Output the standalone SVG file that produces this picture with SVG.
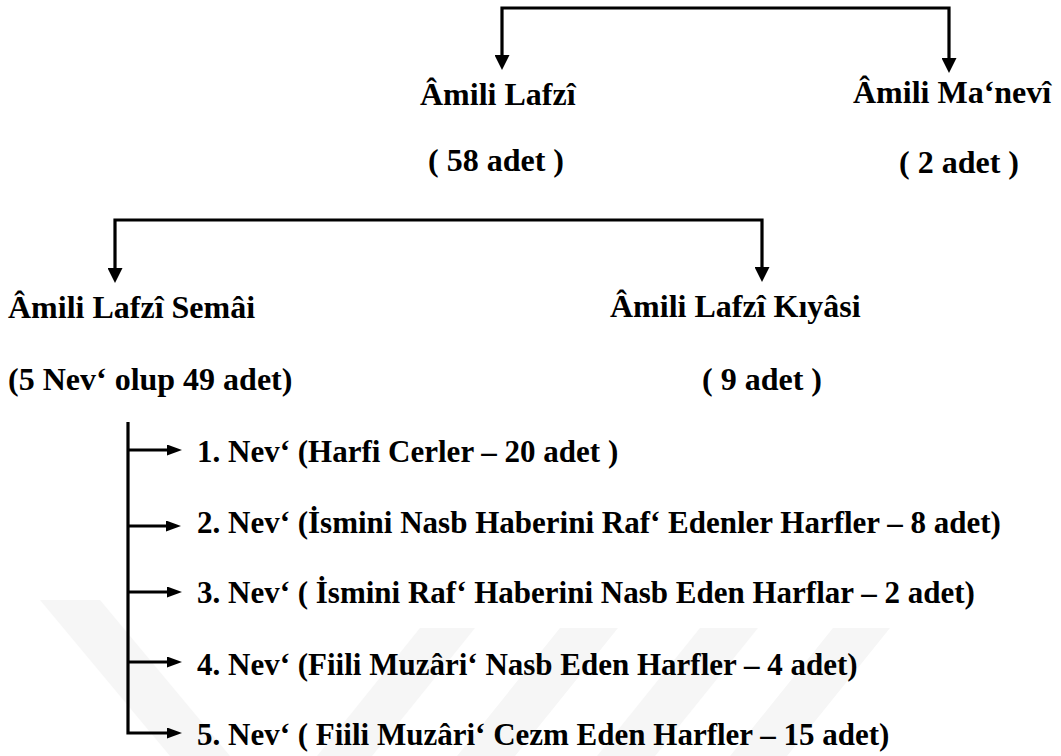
<svg xmlns="http://www.w3.org/2000/svg" width="1061" height="756" viewBox="0 0 1061 756">
<style>
.c{fill:none;stroke:#000;stroke-width:3.2;stroke-linejoin:miter}
.wm{fill:#f6f6f6}
</style>
<defs>
<marker id="big" viewBox="0 0 15 15" markerWidth="15" markerHeight="15" refX="5" refY="7.5" markerUnits="userSpaceOnUse" orient="auto-start-reverse"><path d="M0,0 L15,7.5 L0,15 Z" fill="#000"/></marker>
<marker id="sm" viewBox="0 0 15 11" markerWidth="15" markerHeight="11" refX="5" refY="5.5" markerUnits="userSpaceOnUse" orient="auto"><path d="M0,0 L15,5.5 L0,11 Z" fill="#000"/></marker>
</defs>
<rect width="1061" height="756" fill="#fff"/>
<g id="watermark">
<polygon class="wm" points="40,600 100,600 230,756 170,756"/>
<polygon class="wm" points="420,628 475,628 372,756 317,756"/>
<polygon class="wm" points="560,628 618,628 515,756 457,756"/>
<polygon class="wm" points="700,628 758,628 655,756 597,756"/>
<polygon class="wm" points="833,628 890,628 787,756 730,756"/>
</g>
<g id="connectors">
<path class="c" d="M502,60 V8 H949 V63" marker-start="url(#big)" marker-end="url(#big)"/>
<path class="c" d="M115,273 V220 H762 V272" marker-start="url(#big)" marker-end="url(#big)"/>
<path class="c" d="M128,422 V733 H172" marker-end="url(#sm)"/>
<path class="c" d="M127,450 H172" marker-end="url(#sm)"/>
<path class="c" d="M128,526 H171" marker-end="url(#sm)"/>
<path class="c" d="M128,592 H172" marker-end="url(#sm)"/>
<path class="c" d="M128,662 H172" marker-end="url(#sm)"/>
</g>
<g font-family="Liberation Serif" font-weight="bold" fill="#000">
<g id="lafzi" font-size="32"><text x="420" y="105">Âmili Lafzî</text><text x="428" y="171">( 58 adet )</text></g>
<g id="manevi" font-size="32"><text x="853" y="103">Âmili Ma‘nevî</text><text x="899" y="173">( 2 adet )</text></g>
<g id="semai" font-size="32"><text x="8" y="318">Âmili Lafzî Semâi</text><text x="8" y="390">(5 Nev‘ olup 49 adet)</text></g>
<g id="kiyasi" font-size="32"><text x="610" y="317">Âmili Lafzî Kıyâsi</text><text x="702" y="390">( 9 adet )</text></g>
<g id="nev1" font-size="31"><text x="197" y="462">1. Nev‘ (Harfi Cerler – 20 adet )</text></g>
<g id="nev2" font-size="31"><text x="197" y="533">2. Nev‘ (İsmini Nasb Haberini Raf‘ Edenler Harfler – 8 adet)</text></g>
<g id="nev3" font-size="31"><text x="197" y="603">3. Nev‘ ( İsmini Raf‘ Haberini Nasb Eden Harflar – 2 adet)</text></g>
<g id="nev4" font-size="31"><text x="197" y="675">4. Nev‘ (Fiili Muzâri‘ Nasb Eden Harfler – 4 adet)</text></g>
<g id="nev5" font-size="31"><text x="197" y="745">5. Nev‘ ( Fiili Muzâri‘ Cezm Eden Harfler – 15 adet)</text></g>
</g>
</svg>
